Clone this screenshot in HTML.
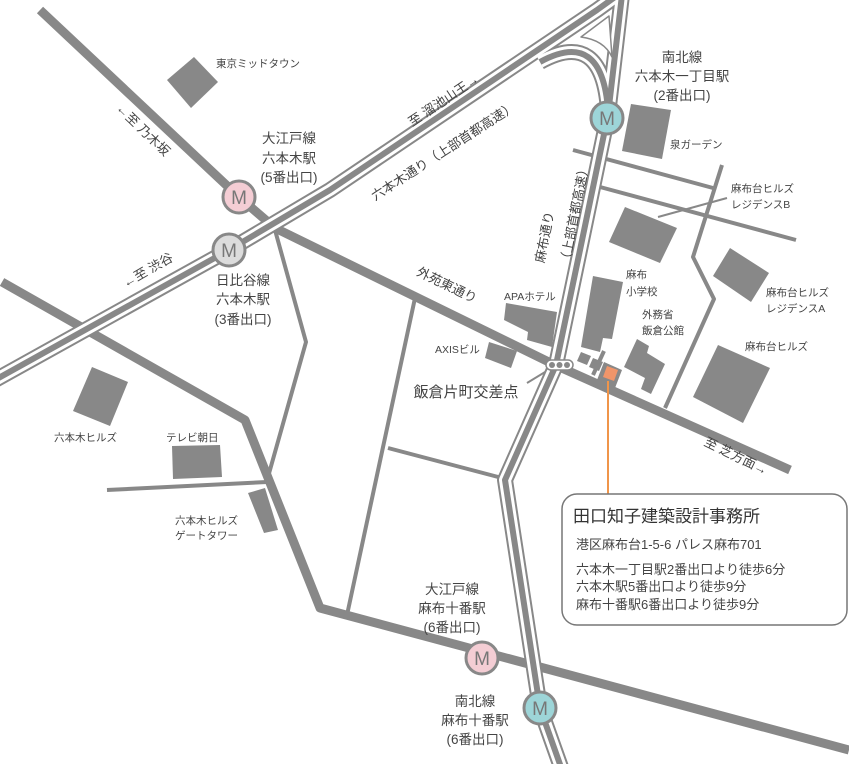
<!DOCTYPE html>
<html><head><meta charset="utf-8"><style>
html,body{margin:0;padding:0;background:#fff;width:849px;height:764px;overflow:hidden}
svg{display:block}
text{font-family:"Liberation Sans","Noto Sans CJK JP",sans-serif;fill:#444}
</style></head><body>
<svg width="849" height="764" viewBox="0 0 849 764" xmlns="http://www.w3.org/2000/svg">
<g fill="none" stroke="#888" stroke-linejoin="round">
<g stroke-width="4">
<polyline points="275,230 306,342 268,477"/>
<polyline points="107,490 267,482"/>
<polyline points="415,298 347,615"/>
<polyline points="388,448 502,478"/>
<polyline points="573,150 713,188"/>
<polyline points="600,187 796,240"/>
<polyline points="722,165 693,257 714,299 665,408"/>
<polyline points="604,351 593,375"/>
</g>
<line x1="658" y1="217" x2="727" y2="198" stroke-width="2"/>
<line x1="550" y1="369" x2="527" y2="383" stroke-width="2"/>
<polyline points="40,10 239,197 275,228 555,365 790,470" stroke-width="9"/>
<polyline points="2,282 245,420 320,608 849,750" stroke-width="9"/>
<g>
<polyline points="-5,380 229,250 330,190 597,10 615,-3" stroke-width="16"/>
<polyline points="622,-5 608,115 580,250 556,365 505,480 540,708 562,770" stroke-width="16"/>
<path d="M540,62 Q602,28 608,110" stroke-width="16"/>
<polyline points="-5,380 229,250 330,190 597,10 615,-3" stroke="#fff" stroke-width="12"/>
<polyline points="622,-5 608,115 580,250 556,365 505,480 540,708 562,770" stroke="#fff" stroke-width="12"/>
<path d="M540,62 Q602,28 608,110" stroke="#fff" stroke-width="12"/>
<polyline points="-5,380 229,250 330,190 597,10 615,-3" stroke-width="6"/>
<polyline points="622,-5 608,115 580,250 556,365 505,480 540,708 562,770" stroke-width="6"/>
<path d="M540,62 Q602,28 608,110" stroke-width="6"/>
<path d="M581,37 L609,16 L612,57 Q604,40 581,37 Z" stroke-width="1.5" fill="#fff"/>
</g>
</g>
<g fill="#888">
<polygon points="167,80 194,57 218,82 191,108"/>
<polygon points="92,367 128,382 110,426 73,411"/>
<polygon points="172,446 220,445 222,477 173,479"/>
<polygon points="248,493 265,488 278,530 264,533"/>
<polygon points="631,104 671,110 662,159 622,151"/>
<polygon points="625,207 677,228 660,263 609,242"/>
<polygon points="730,248 769,273 751,302 713,276"/>
<polygon points="718,345 770,368 743,423 693,397"/>
<polygon points="593,276 623,282 612,339 603,338 600,352 581,347"/>
<polygon points="637,339 649,346 647,353 665,364 651,394 641,389 645,378 624,367"/>
<polygon points="506,303 557,312 552,347 527,340 528,332 504,320"/>
<polygon points="489,342 517,351 511,368 485,358"/>
<polygon points="581,352 591,356 587,365 577,361"/>
<polygon points="593,358 603,362 599,371 589,367"/>
<polygon points="604,362 622,370 615,388 597,380"/>
</g>
<polygon points="607,366 618,370 614,381 603,377" fill="#f0956a"/>
<line x1="608" y1="381" x2="608" y2="495" stroke="#f0954a" stroke-width="2"/>
<rect x="546" y="360" width="27" height="10" rx="5" fill="#fff" stroke="#888" stroke-width="1.5"/>
<circle cx="552" cy="365" r="3" fill="#888"/><circle cx="559.5" cy="365" r="3" fill="#888"/><circle cx="567" cy="365" r="3" fill="#888"/>
<g stroke="#888" stroke-width="3">
<circle cx="239" cy="197" r="16" fill="#f4cdd4"/>
<circle cx="229" cy="250" r="16" fill="#dcdcdc"/>
<circle cx="607" cy="118" r="16" fill="#9dd5d8"/>
<circle cx="482" cy="658" r="16" fill="#f4cdd4"/>
<circle cx="540" cy="708" r="16" fill="#9dd5d8"/>
</g>
<g font-size="19" text-anchor="middle">
<text x="239" y="204" style="fill:#777">M</text>
<text x="229" y="257" style="fill:#777">M</text>
<text x="607" y="125" style="fill:#777">M</text>
<text x="482" y="665" style="fill:#777">M</text>
<text x="540" y="715" style="fill:#777">M</text>
</g>
<g font-size="13.5" text-anchor="middle">
<text x="289" y="143">大江戸線</text><text x="289" y="163">六本木駅</text><text x="289" y="182">(5番出口)</text>
<text x="243" y="285">日比谷線</text><text x="243" y="304">六本木駅</text><text x="243" y="324">(3番出口)</text>
<text x="682" y="62">南北線</text><text x="682" y="81">六本木一丁目駅</text><text x="682" y="100">(2番出口)</text>
<text x="452" y="594">大江戸線</text><text x="452" y="613">麻布十番駅</text><text x="452" y="632">(6番出口)</text>
<text x="475" y="706">南北線</text><text x="475" y="725">麻布十番駅</text><text x="475" y="744">(6番出口)</text>
<text x="466" y="397" font-size="15">飯倉片町交差点</text>
</g>
<g font-size="10.5">
<text x="216" y="67">東京ミッドタウン</text>
<text x="670" y="148">泉ガーデン</text>
<text x="731" y="192">麻布台ヒルズ</text><text x="731" y="208">レジデンスB</text>
<text x="766" y="296">麻布台ヒルズ</text><text x="766" y="312">レジデンスA</text>
<text x="745" y="350">麻布台ヒルズ</text>
<text x="626" y="278">麻布</text><text x="626" y="295">小学校</text>
<text x="642" y="318">外務省</text><text x="642" y="334">飯倉公館</text>
<text x="504" y="300">APAホテル</text>
<text x="435" y="353">AXISビル</text>
<text x="54" y="441">六本木ヒルズ</text>
<text x="166" y="441">テレビ朝日</text>
<text x="175" y="524">六本木ヒルズ</text><text x="175" y="539">ゲートタワー</text>
</g>
<g font-size="13">
<text transform="translate(446,104) rotate(-34)" text-anchor="middle">至 溜池山王→</text>
<text transform="translate(446,155) rotate(-33)" text-anchor="middle">六本木通り（上部首都高速）</text>
<text transform="translate(140,133) rotate(44)" text-anchor="middle">←至 乃木坂</text>
<text transform="translate(150,274) rotate(-30)" text-anchor="middle">←至 渋谷</text>
<text transform="translate(445,289) rotate(26)" text-anchor="middle">外苑東通り</text>
<text transform="translate(734,460) rotate(26)" text-anchor="middle">至 芝方面→</text>
<text transform="translate(549,238) rotate(-79)" text-anchor="middle">麻布通り</text>
<text transform="translate(579,215) rotate(-79)" text-anchor="middle">（上部首都高速）</text>
</g>
<rect x="562" y="494" width="285" height="131" rx="15" fill="#fff" stroke="#777" stroke-width="1.5"/>
<text x="573" y="522" font-size="17" style="fill:#333">田口知子建築設計事務所</text>
<g font-size="13" style="fill:#333">
<text x="576" y="549">港区麻布台1-5-6 パレス麻布701</text>
<text x="576" y="574">六本木一丁目駅2番出口より徒歩6分</text>
<text x="576" y="591">六本木駅5番出口より徒歩9分</text>
<text x="576" y="609">麻布十番駅6番出口より徒歩9分</text>
</g>
</svg>
</body></html>
